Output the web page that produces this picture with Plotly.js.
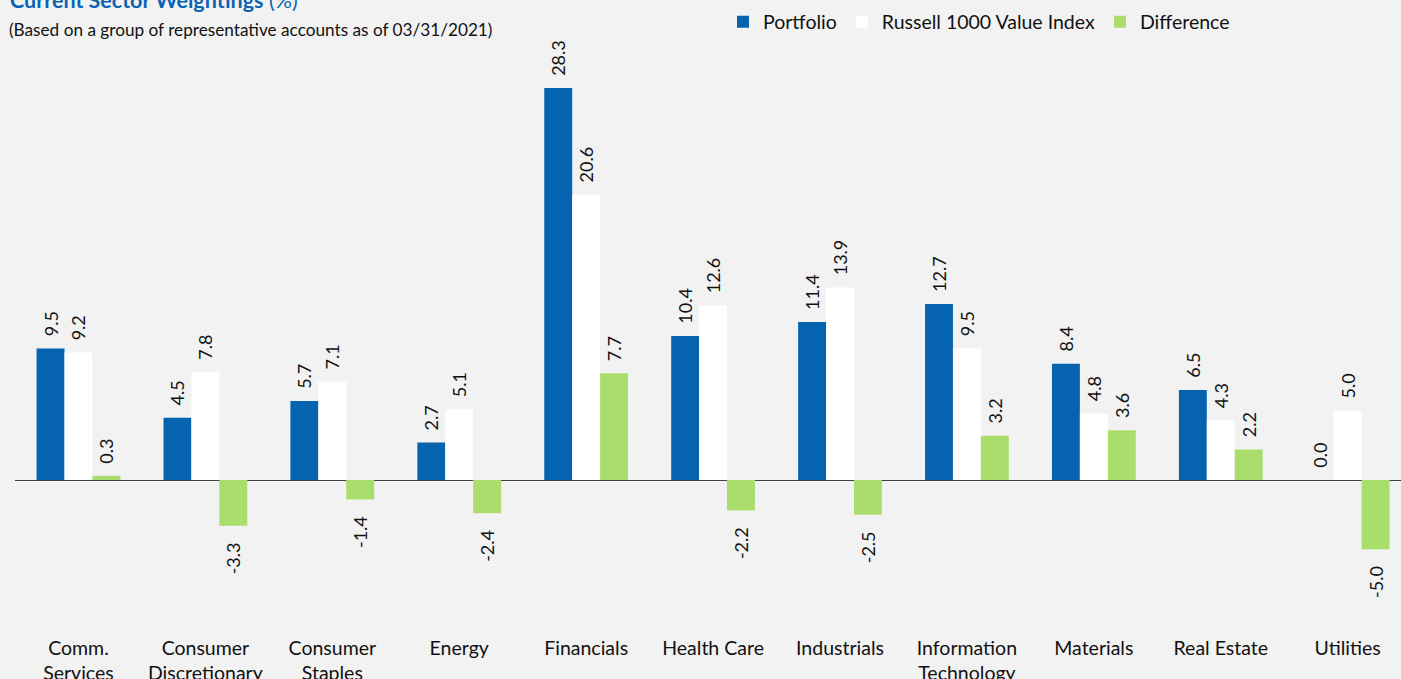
<!DOCTYPE html>
<html>
<head>
<meta charset="utf-8">
<script src="https://cdn.plot.ly/plotly-3.0.1.min.js"></script>
<style>
html,body{margin:0;padding:0;background:#F2F2F2;}
#chart{width:1401px;height:679px;}
</style>
</head>
<body>
<div id="chart"></div>
<script>
var sectors = ["Comm.<br>Services","Consumer<br>Discretionary","Consumer<br>Staples","Energy","Financials","Health Care","Industrials","Information<br>Technology","Materials","Real Estate","Utilities"];
var portfolio = [9.5, 4.5, 5.7, 2.7, 28.3, 10.4, 11.4, 12.7, 8.4, 6.5, 0.0];
var russell = [9.2, 7.8, 7.1, 5.1, 20.6, 12.6, 13.9, 9.5, 4.8, 4.3, 5.0];
var difference = [0.3, -3.3, -1.4, -2.4, 7.7, -2.2, -2.5, 3.2, 3.6, 2.2, -5.0];
var seriesNames = ["Portfolio", "Russell 1000 Value Index", "Difference"];

var idx = sectors.map(function(_, i){ return i; });
var FONT = "Lato, 'Open Sans', sans-serif";
var NB = '\u00a0';

function barTrace(name, vals, color){
  return {
    type: 'bar', name: name, x: idx, y: vals,
    marker: {color: color, line: {width: 0}},
    text: vals.map(function(v){
      return v < 0 ? v.toFixed(1) + NB + NB + NB : NB + NB + v.toFixed(1);
    }),
    textposition: 'outside', textangle: -90,
    constraintext: 'none', cliponaxis: false,
    textfont: {family: FONT, size: 18, color: '#111'},
    hoverinfo: 'x+y'
  };
}

var data = [
  barTrace(seriesNames[0], portfolio, '#0563B0'),
  barTrace(seriesNames[1], russell, '#FFFFFF'),
  barTrace(seriesNames[2], difference, '#A9DD6C')
];

var T = 40, B = 45, H = 679;
var plotH = H - T - B;
var bottomPix = H - B;
function py(pix){ return (bottomPix - pix) / plotH; }
var L = 15, W = 1401 - L;
function px(pix){ return (pix - L) / W; }
var zeroPix = 480, pxPerUnit = 13.85;

var layout = {
  width: 1401, height: 679,
  paper_bgcolor: '#F2F2F2', plot_bgcolor: '#F2F2F2',
  margin: {l: L, r: 0, t: T, b: B, pad: 0},
  barmode: 'group', bargap: 0.34, bargroupgap: 0,
  font: {family: FONT, color: '#111'},
  showlegend: true,
  legend: {
    orientation: 'h', x: px(723), xanchor: 'left', y: py(22), yanchor: 'middle',
    font: {family: FONT, size: 19.5, color: '#111'},
    bgcolor: 'rgba(0,0,0,0)', traceorder: 'normal'
  },
  xaxis: {
    range: [-0.5, 10.42], tickvals: idx, ticktext: sectors,
    showgrid: false, zeroline: false, showline: false, ticks: '',
    tickfont: {family: FONT, size: 19.5, color: '#111'}, fixedrange: true
  },
  yaxis: {
    range: [-(bottomPix - zeroPix) / pxPerUnit, (zeroPix - T) / pxPerUnit],
    showgrid: false, showticklabels: false, ticks: '',
    zeroline: true, zerolinecolor: '#404040', zerolinewidth: 1, fixedrange: true
  },
  annotations: [
    {xref: 'paper', yref: 'paper', x: px(8), y: py(0), xanchor: 'left', yanchor: 'middle',
     text: '<b>Current Sector Weightings</b> (%)', showarrow: false,
     font: {family: FONT, size: 21.5, color: '#0B63B5'}},
    {xref: 'paper', yref: 'paper', x: px(7), y: py(30), xanchor: 'left', yanchor: 'middle',
     text: '(Based on a group of representative accounts as of 03/31/2021)', showarrow: false,
     font: {family: FONT, size: 17.2, color: '#111'}}
  ]
};

Plotly.newPlot('chart', data, layout, {displayModeBar: false, staticPlot: true});
</script>
</body>
</html>
